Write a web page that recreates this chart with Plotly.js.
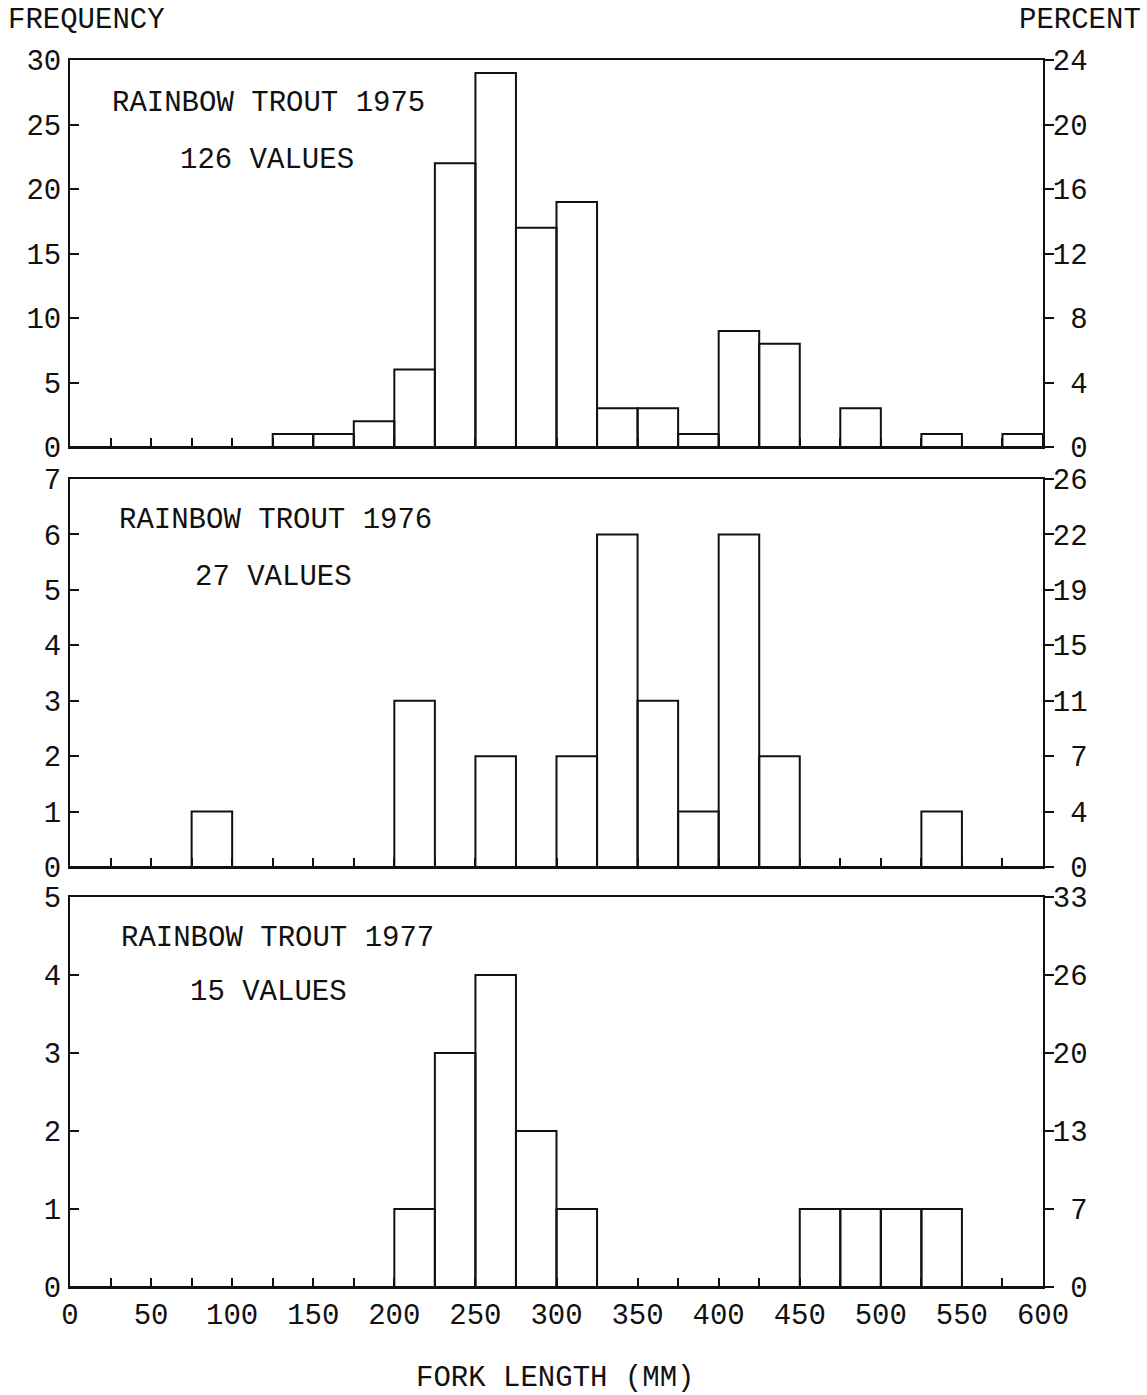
<!DOCTYPE html>
<html>
<head>
<meta charset="utf-8">
<script src="https://cdn.plot.ly/plotly-3.0.1.min.js"></script>
<style>body{margin:0;background:#fff;}</style>
</head>
<body>
<div id="chart" style="width:1147px;height:1395px;"></div>
<script>
// Bin lower edges (fork length, mm), bin width 25
const binStarts = [0,25,50,75,100,125,150,175,200,225,250,275,300,325,350,375,400,425,450,475,500,525,550,575];
const binWidth = 25;
// Frequencies per bin
const counts1975 = [0,0,0,0,0,1,1,2,6,22,29,17,19,3,3,1,9,8,0,3,0,1,0,1];
const counts1976 = [0,0,0,1,0,0,0,0,3,0,2,0,2,6,3,1,6,2,0,0,0,1,0,0];
const counts1977 = [0,0,0,0,0,0,0,0,1,3,4,2,1,0,0,0,0,0,1,1,1,1,0,0];
// Panel labels
const titles = ["RAINBOW TROUT 1975","RAINBOW TROUT 1976","RAINBOW TROUT 1977"];
const nLabels = ["126 VALUES","27 VALUES","15 VALUES"];
// Left (frequency) ticks
const freqTicks1 = [0,5,10,15,20,25,30];
const freqTicks2 = [0,1,2,3,4,5,6,7];
const freqTicks3 = [0,1,2,3,4,5];
// Right (percent) tick labels at the same positions
const pctLabels1 = ["0","4","8","12","16","20","24"];
const pctLabels2 = ["0","4","7","11","15","19","22","26"];
const pctLabels3 = ["0","7","13","20","26","33"];
// X ticks
const xTickVals = [0,25,50,75,100,125,150,175,200,225,250,275,300,325,350,375,400,425,450,475,500,525,550,575,600];
const xTickText = ["0","","50","","100","","150","","200","","250","","300","","350","","400","","450","","500","","550","","600"];

const FONT = "Liberation Mono";
const INK = "#111";
const TICKFONT = {family: FONT, size: 29, color: INK};
const TEXTFONT = {family: FONT, size: 29, color: INK};

// right-align the percent labels (monospace font): pad to two characters
function padRight(labels){ return labels.map(s => s.length < 2 ? "\u00A0" + s : s); }

function barTrace(counts, xa, ya){
  return {
    type: "bar", x: binStarts, y: counts, width: binWidth, offset: 0,
    xaxis: xa, yaxis: ya,
    marker: {color: "rgba(255,255,255,0)", line: {color: INK, width: 2}},
    hoverinfo: "skip", showlegend: false
  };
}
const data = [
  barTrace(counts1975, "x", "y"),
  barTrace(counts1976, "x2", "y2"),
  barTrace(counts1977, "x3", "y3")
];

function xAxis(anchor, labels){
  return {
    anchor: anchor, range: [0,600], showline: true, mirror: true, linecolor: INK, linewidth: 2,
    ticks: "inside", ticklen: 9, tickwidth: 2, tickcolor: INK,
    tickmode: "array", tickvals: xTickVals, ticktext: labels ? xTickText : xTickVals.map(()=>""),
    showticklabels: !!labels, showgrid: false, zeroline: false, fixedrange: true,
    tickfont: TICKFONT, ticklabelstandoff: 0
  };
}
function yLeft(anchor, domain, maxv, ticks){
  return {
    anchor: anchor, domain: domain, range: [0,maxv], showline: true, linecolor: INK, linewidth: 2,
    ticks: "inside", ticklen: 9, tickwidth: 2, tickcolor: INK,
    tickmode: "array", tickvals: ticks, ticktext: ticks.map(String),
    showgrid: false, zeroline: false, fixedrange: true,
    tickfont: TICKFONT, ticklabelstandoff: 1
  };
}
function yRight(over, anchor, maxv, ticks, labels){
  return {
    overlaying: over, anchor: anchor, side: "right", range: [0,maxv], showline: true, linecolor: INK, linewidth: 2,
    ticks: "outside", ticklen: 9, tickwidth: 2, tickcolor: INK,
    tickmode: "array", tickvals: ticks, ticktext: padRight(labels),
    showgrid: false, zeroline: false, fixedrange: true,
    tickfont: TICKFONT, ticklabelstandoff: -7
  };
}

const d1 = [0.6846, 1], d2 = [0.3423, 0.6585], d3 = [0, 0.3178];

const ann = [];
const annY = [[0.888, 0.741], [0.893, 0.747], [0.893, 0.755]];
const annX = [[110,178],[117,193],[119,188]];
const refs = [["x domain","y domain"],["x2 domain","y2 domain"],["x3 domain","y3 domain"]];
for (let i = 0; i < 3; i++){
  ann.push({text: titles[i], xref: refs[i][0], yref: refs[i][1], x: (annX[i][0]-70)/973, y: annY[i][0], xanchor: "left", yanchor: "middle", showarrow: false, font: TEXTFONT});
  ann.push({text: nLabels[i], xref: refs[i][0], yref: refs[i][1], x: (annX[i][1]-70)/973, y: annY[i][1], xanchor: "left", yanchor: "middle", showarrow: false, font: TEXTFONT});
}
ann.push({text: "FREQUENCY", xref: "paper", yref: "paper", x: -64/973, y: 1 + 40/1227, xanchor: "left", yanchor: "middle", showarrow: false, font: TEXTFONT});
ann.push({text: "PERCENT", xref: "paper", yref: "paper", x: (1143-70)/973, y: 1 + 40/1227, xanchor: "right", yanchor: "middle", showarrow: false, font: TEXTFONT});
ann.push({text: "FORK LENGTH (MM)", xref: "paper", yref: "paper", x: (555-70)/973, y: -92/1227, xanchor: "center", yanchor: "middle", showarrow: false, font: TEXTFONT});

const layout = {
  width: 1147, height: 1395,
  margin: {l: 70, r: 104, t: 60, b: 108},
  paper_bgcolor: "#fff", plot_bgcolor: "#fff",
  bargap: 0, barmode: "overlay",
  xaxis: xAxis("y", false),
  xaxis2: xAxis("y2", false),
  xaxis3: xAxis("y3", true),
  yaxis: yLeft("x", d1, 30, freqTicks1),
  yaxis2: yLeft("x2", d2, 7, freqTicks2),
  yaxis3: yLeft("x3", d3, 5, freqTicks3),
  yaxis4: yRight("y", "x", 30, freqTicks1, pctLabels1),
  yaxis5: yRight("y2", "x2", 7, freqTicks2, pctLabels2),
  yaxis6: yRight("y3", "x3", 5, freqTicks3, pctLabels3),
  annotations: ann,
  showlegend: false
};
// invisible helper traces so the right-hand percent axes render
data.push({type: "scatter", x: [0], y: [0], xaxis: "x", yaxis: "y4", mode: "markers", marker: {opacity: 0}, hoverinfo: "skip", showlegend: false});
data.push({type: "scatter", x: [0], y: [0], xaxis: "x2", yaxis: "y5", mode: "markers", marker: {opacity: 0}, hoverinfo: "skip", showlegend: false});
data.push({type: "scatter", x: [0], y: [0], xaxis: "x3", yaxis: "y6", mode: "markers", marker: {opacity: 0}, hoverinfo: "skip", showlegend: false});

Plotly.newPlot("chart", data, layout, {staticPlot: true, displayModeBar: false});
</script>
</body>
</html>
